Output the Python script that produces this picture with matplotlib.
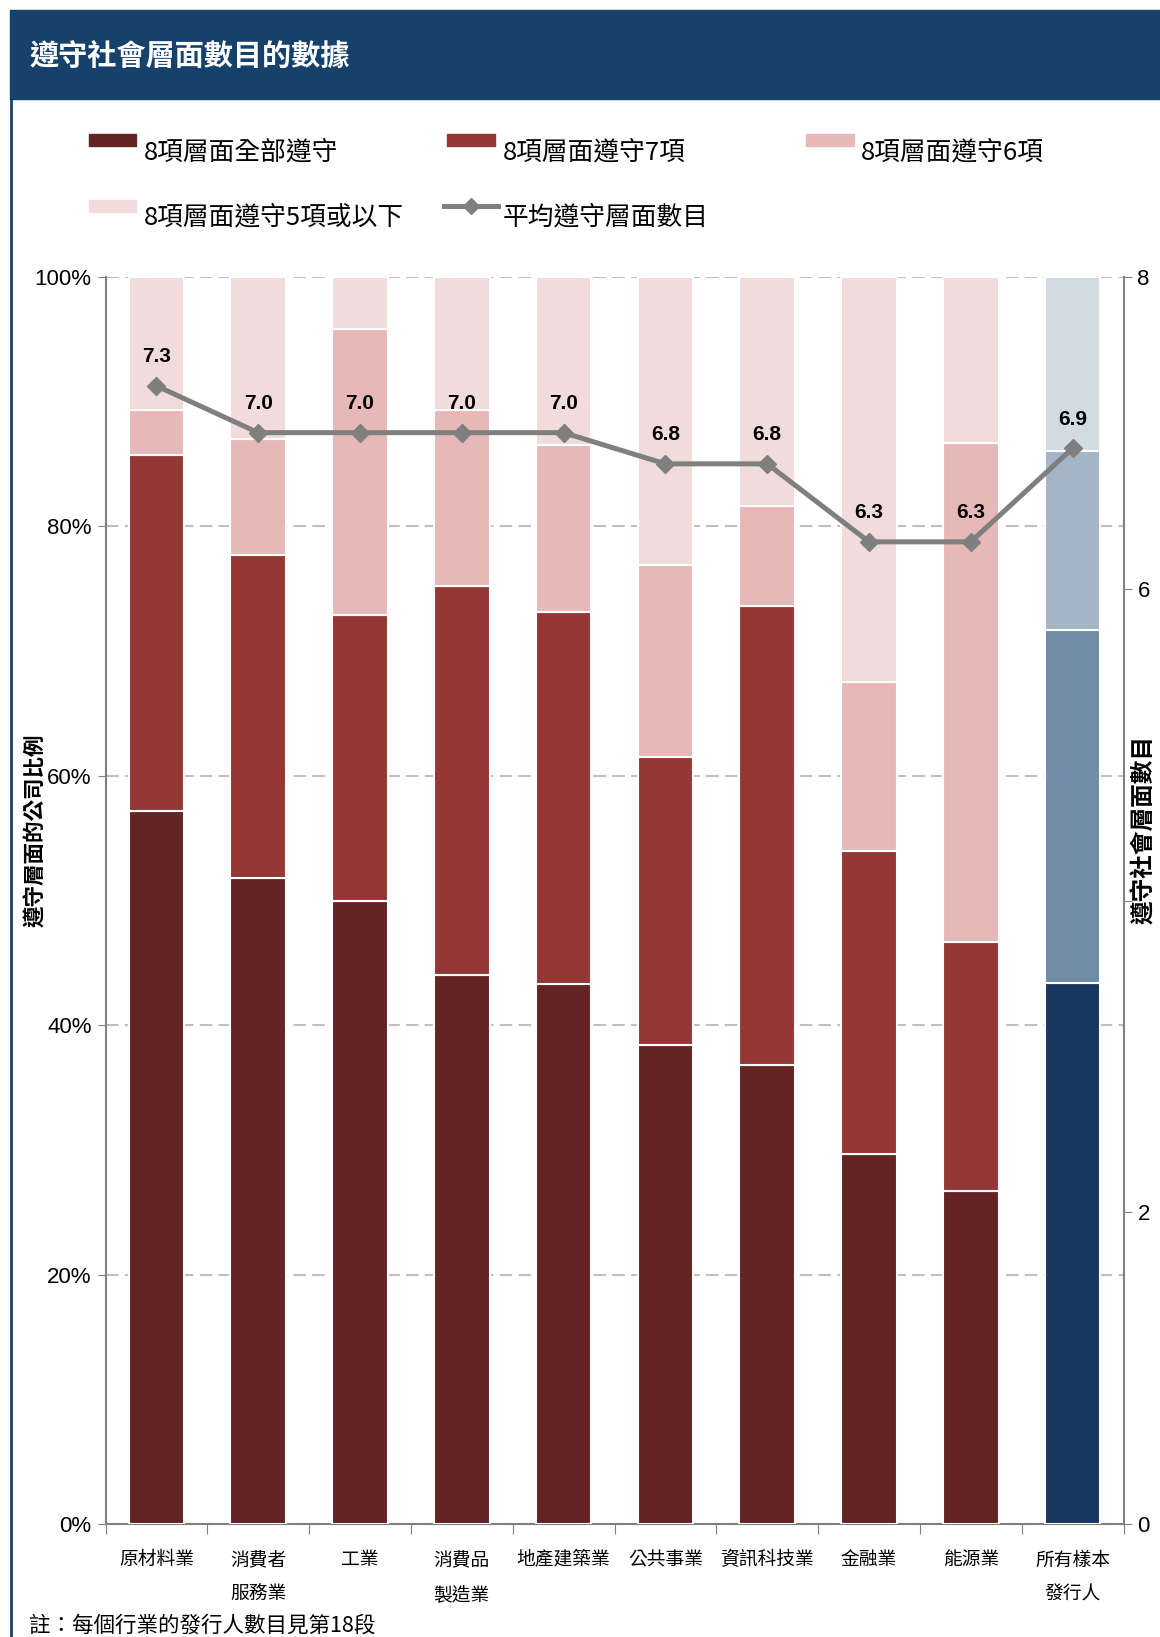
import matplotlib.pyplot as plt
from matplotlib.patches import Rectangle
from matplotlib.lines import Line2D
import numpy as np

plt.rcParams['font.family'] = ['Noto Sans CJK TC', 'DejaVu Sans']

# industries along the x axis
categories = ['原材料業', '消費者\n服務業', '工業', '消費品\n製造業', '地產建築業',
              '公共事業', '資訊科技業', '金融業', '能源業', '所有樣本\n發行人']

# share of issuers (%) by number of aspects complied with
all_8 = [57.2, 51.8, 50.0, 44.0, 43.3, 38.4, 36.8, 29.7, 26.7, 43.4]
seven = [28.5, 25.9, 22.9, 31.2, 29.8, 23.1, 36.8, 24.3, 20.0, 28.3]
six = [3.6, 9.3, 22.9, 14.1, 13.4, 15.4, 8.0, 13.5, 40.0, 14.3]
five_or_less = [10.7, 13.0, 4.2, 10.7, 13.5, 23.1, 18.4, 32.5, 13.3, 14.0]

# average number of aspects complied with
avg_aspects = [7.3, 7.0, 7.0, 7.0, 7.0, 6.8, 6.8, 6.3, 6.3, 6.9]

legend_labels = ['8項層面全部遵守', '8項層面遵守7項', '8項層面遵守6項',
                 '8項層面遵守5項或以下', '平均遵守層面數目']

reds = ['#632423', '#953735', '#E6B9B8', '#F2DCDB']
blues = ['#17375E', '#6F8BA5', '#A3B5C6', '#D0DBE4']
navy = '#15416B'

W, H = 1160, 1637
fig = plt.figure(figsize=(W / 100, H / 100), dpi=100)


def fx(x):
    return x / W


def fy(y):
    return 1 - y / H


# header band and left frame line
fig.patches.append(Rectangle((fx(10), fy(99)), fx(1150), 89 / H,
                             transform=fig.transFigure, color=navy, zorder=0))
fig.lines.append(Line2D([fx(11), fx(11)], [fy(99), 0], transform=fig.transFigure,
                        color=navy, lw=2))
fig.text(fx(29), fy(56), '遵守社會層面數目的數據', color='white', fontsize=21,
         fontweight='bold', va='center', ha='left')

ax = fig.add_axes([fx(105.5), fy(1524.4), fx(1123.5 - 105.5), (1524.4 - 276.7) / H])

x = np.arange(len(categories))
layers = [all_8, seven, six, five_or_less]
bottom = np.zeros(len(categories))
for i, vals in enumerate(layers):
    cols = [reds[i]] * (len(categories) - 1) + [blues[i]]
    ax.bar(x, vals, width=0.545, bottom=bottom, color=cols, edgecolor='white',
           linewidth=1.5, zorder=3)
    bottom += np.array(vals)

ax.set_xlim(-0.5, len(categories) - 0.5)
ax.set_ylim(0, 100)
ax.set_yticks(np.arange(0, 101, 20))
ax.set_yticklabels([f'{v}%' for v in range(0, 101, 20)], family='Liberation Sans',
                   fontsize=16)
ax.yaxis.grid(True, color='#BFBFBF', linestyle=(0, (6, 3)), linewidth=1.5, zorder=0)
ax.set_axisbelow(True)

# category boundaries get the tick marks, labels sit at the centres
ax.set_xticks(np.arange(-0.5, len(categories), 1))
ax.set_xticklabels([])
ax.set_xticks(x, minor=True)
ax.set_xticklabels(categories, minor=True, fontsize=13.5, linespacing=1.85, va='top')
ax.tick_params(axis='x', which='major', length=7, color='#808080', direction='out')
ax.tick_params(axis='x', which='minor', length=0, pad=18)
ax.tick_params(axis='y', length=6, color='#808080', pad=4)

for side in ['top', 'right']:
    ax.spines[side].set_visible(False)
for side in ['left', 'bottom']:
    ax.spines[side].set_color('#808080')
    ax.spines[side].set_linewidth(1.5)

ax2 = ax.twinx()
ax2.set_ylim(0, 8)
ax2.set_yticks([0, 2, 4, 6, 8])
ax2.set_yticklabels(['0', '2', '', '6', '8'], family='Liberation Sans', fontsize=16)
ax2.tick_params(axis='y', length=6, color='#808080', pad=4)
for side in ['top', 'left', 'bottom']:
    ax2.spines[side].set_visible(False)
ax2.spines['right'].set_color('#808080')
ax2.spines['right'].set_linewidth(1.5)

ax2.plot(x, avg_aspects, color='#7F7F7F', lw=3.6, marker='D', markersize=9, zorder=5)
for xi, v in zip(x, avg_aspects):
    ax2.annotate(f'{v:.1f}', (xi, v), xytext=(0, 21), textcoords='offset points',
                 ha='center', va='center', fontsize=15, fontweight='bold',
                 family='Liberation Sans')

# axis titles
fig.text(fx(36), fy(830), '遵守層面的公司比例', rotation=90, fontsize=15.5,
         fontweight='bold', ha='center', va='center')
fig.text(fx(1144), fy(830), '遵守社會層面數目', rotation=90, fontsize=17,
         fontweight='bold', ha='center', va='center')

# legend
rows = [(140, 152), (206, 217)]
cols_x = [(89, 136, 144), (447, 495, 503), (806, 854, 861)]
slots = [(0, 0), (0, 1), (0, 2), (1, 0)]
for i, (r, c) in enumerate(slots):
    x0, x1, tx = cols_x[c]
    ptop = rows[r][0] - 6
    fig.patches.append(Rectangle((fx(x0), fy(ptop + 12)), fx(x1 - x0), 12 / H,
                                 transform=fig.transFigure, color=reds[i]))
    fig.text(fx(tx), fy(rows[r][1]), legend_labels[i], fontsize=18.5, va='center')
fig.lines.append(Line2D([fx(444), fx(498)], [fy(206), fy(206)],
                        transform=fig.transFigure, color='#7F7F7F', lw=3.6))
fig.lines.append(Line2D([fx(471)], [fy(206)], transform=fig.transFigure,
                        color='#7F7F7F', marker='D', markersize=8))
fig.text(fx(503), fy(217), legend_labels[4], fontsize=18.5, va='center')

fig.text(fx(29), fy(1626), '註：每個行業的發行人數目見第18段', fontsize=15.5,
         style='italic', va='center')

fig.savefig('out.png', dpi=100)
